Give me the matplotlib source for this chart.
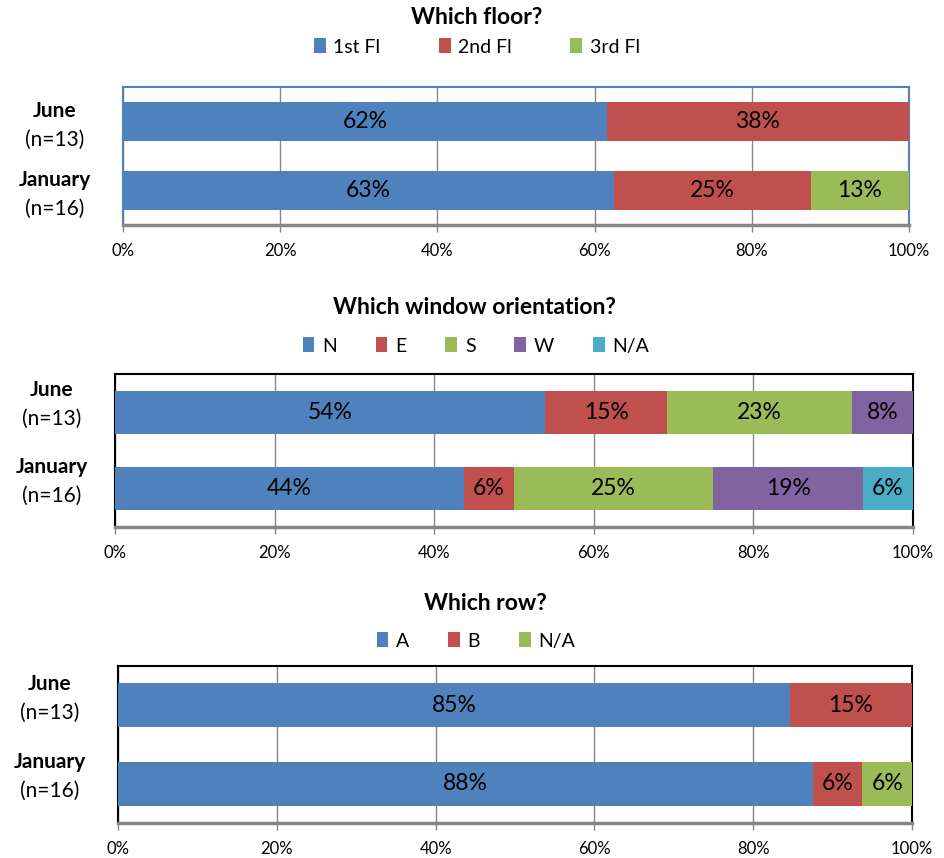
import math
import matplotlib
matplotlib.use("Agg")
import matplotlib.pyplot as plt
from matplotlib.patches import Patch

plt.rcParams['font.family'] = ['Lato', 'DejaVu Sans']

categories = ["January", "June"]          # bottom to top
cat_n = ["(n=16)", "(n=13)"]

floor_titles = "Which floor?"
floor_series = ["1st Fl", "2nd Fl", "3rd Fl"]
floor_jan = [62.5, 25.0, 12.5]
floor_jun = [61.54, 38.46, 0.0]

orient_title = "Which window orientation?"
orient_series = ["N", "E", "S", "W", "N/A"]
orient_jan = [43.75, 6.25, 25.0, 18.75, 6.25]
orient_jun = [53.85, 15.38, 23.08, 7.69, 0.0]

row_title = "Which row?"
row_series = ["A", "B", "N/A"]
row_jan = [87.5, 6.25, 6.25]
row_jun = [84.62, 15.38, 0.0]

xticks = [0, 20, 40, 60, 80, 100]
xticklabels = ["0%", "20%", "40%", "60%", "80%", "100%"]

colors = ["#4F81BD", "#C0504D", "#9BBB59", "#8064A2", "#4BACC6"]

W, H = 945, 858
fig = plt.figure(figsize=(W / 100, H / 100), dpi=100)


def fx(px):
    return px / W


def fy(py):
    return 1 - py / H


panels = [
    dict(title=floor_titles, series=floor_series, jan=floor_jan, jun=floor_jun,
         box=(123, 87, 909, 225), title_y=17, title_x=477, leg_y=47, leg_x=477,
         frame="#4F81BD", colsp=3.0, lab_off=4, lab_x=55, bar_h=0.565),
    dict(title=orient_title, series=orient_series, jan=orient_jan, jun=orient_jun,
         box=(115, 374, 913, 527), title_y=308, title_x=474, leg_y=346, leg_x=476,
         frame="black", colsp=2.0, lab_off=-7.5, lab_x=52, bar_h=0.565),
    dict(title=row_title, series=row_series, jan=row_jan, jun=row_jun,
         box=(118, 666, 912, 823), title_y=603, title_x=485, leg_y=641, leg_x=476,
         frame="black", colsp=2.0, lab_off=-7, lab_x=50, bar_h=0.56),
]

for p in panels:
    l, t, r, b = p["box"]
    ax = fig.add_axes([fx(l), fy(b), fx(r) - fx(l), fy(t) - fy(b)])
    ypos = [0, 1]
    data = [p["jan"], p["jun"]]
    nser = len(p["series"])
    for si in range(nser):
        vals = [data[ci][si] for ci in range(2)]
        lefts = [sum(data[ci][:si]) for ci in range(2)]
        ax.barh(ypos, vals, left=lefts, height=p["bar_h"], color=colors[si],
                edgecolor="none", zorder=3)
        for ci in range(2):
            v = vals[ci]
            if v > 0:
                lab = "%d%%" % math.floor(v + 0.5)
                ax.text(lefts[ci] + v / 2, ypos[ci], lab, ha="center", va="center",
                        fontsize=16.5, color="black", zorder=4)
    ax.set_xlim(0, 100)
    ax.set_ylim(-0.5, 1.5)
    ax.set_xticks(xticks)
    ax.set_xticklabels(xticklabels, fontsize=12)
    ax.tick_params(axis="x", direction="out", length=5, width=1, color="#868686", pad=8)
    ax.set_yticks([])
    ax.grid(axis="x", color="#868686", linewidth=1, zorder=0)
    for s in ["left", "top", "right"]:
        ax.spines[s].set_color(p["frame"])
        ax.spines[s].set_linewidth(1.5)
    ax.spines["bottom"].set_color("#868686")
    ax.spines["bottom"].set_linewidth(2.5)
    ax.spines["bottom"].set_zorder(5)

    # category labels
    for ci in range(2):
        ax.annotate(categories[ci], xy=(fx(p["lab_x"]), ypos[ci]),
                    xycoords=("figure fraction", "data"),
                    xytext=(0, -(p["lab_off"] - 14.5) * 0.72), textcoords="offset points",
                    ha="center", va="center", fontsize=15, fontweight="bold")
        ax.annotate(cat_n[ci], xy=(fx(p["lab_x"]), ypos[ci]),
                    xycoords=("figure fraction", "data"),
                    xytext=(0, -(p["lab_off"] + 14.5) * 0.72), textcoords="offset points",
                    ha="center", va="center", fontsize=15)

    fig.text(fx(p["title_x"]), fy(p["title_y"]), p["title"], ha="center", va="center",
             fontsize=16.5, fontweight="bold")
    handles = [Patch(facecolor=colors[i], edgecolor="none") for i in range(nser)]
    fig.legend(handles, p["series"], loc="center", ncol=nser,
               bbox_to_anchor=(fx(p["leg_x"]), fy(p["leg_y"])),
               frameon=False, fontsize=14, handlelength=0.6, handleheight=0.8,
               handletextpad=0.4, columnspacing=p["colsp"], borderpad=0)

fig.savefig("out.png", dpi=100)
